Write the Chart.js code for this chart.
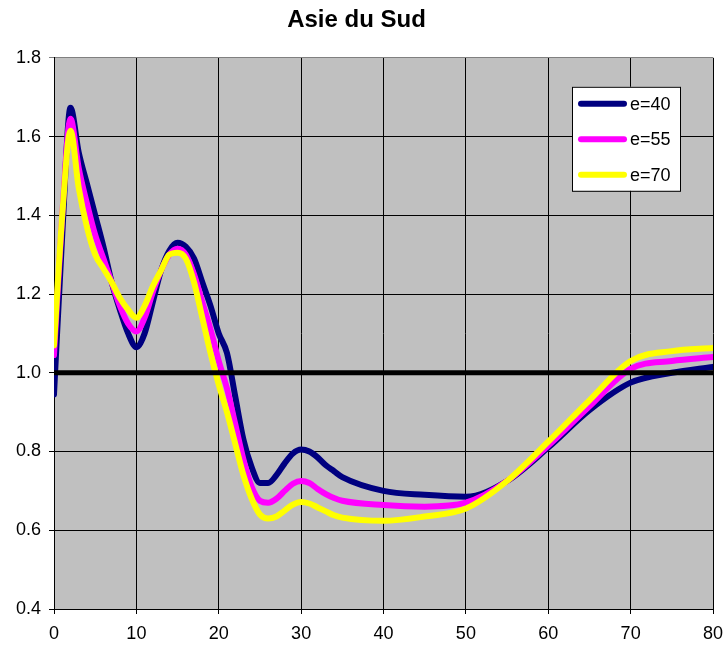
<!DOCTYPE html>
<html>
<head>
<meta charset="utf-8">
<title>Asie du Sud</title>
<script src="https://cdn.jsdelivr.net/npm/chart.js@4.4.1/dist/chart.umd.min.js"></script>
<style>
  html, body { margin: 0; padding: 0; background: #fff; }
  #wrap { width: 724px; height: 648px; }
</style>
</head>
<body>
<div id="wrap"><canvas id="courbes"></canvas></div>
<script>
// abscisses communes aux trois courbes
const ages = [0, 1, 2, 3, 4, 5, 6, 7, 8, 9, 10, 11, 12, 13, 14, 15, 16, 17, 18, 19,
  20, 21, 22, 23, 24, 25, 26, 27, 28, 29, 30, 31, 32, 33, 34, 35,
  40, 45, 50, 55, 60, 65, 70, 75, 80];

const e40 = [0.945, 1.35, 1.673, 1.56, 1.48, 1.40, 1.32, 1.23, 1.16, 1.10, 1.065, 1.10, 1.18, 1.26, 1.31, 1.33,
  1.32, 1.29, 1.23, 1.17, 1.10, 1.05, 0.94, 0.83, 0.76, 0.72, 0.72, 0.74, 0.77, 0.795, 0.805, 0.80, 0.785,
  0.765, 0.75, 0.735, 0.70, 0.69, 0.685, 0.725, 0.81, 0.905, 0.975, 1.00, 1.015];

const e55 = [1.045, 1.40, 1.645, 1.52, 1.43, 1.35, 1.29, 1.23, 1.17, 1.125, 1.105, 1.14, 1.205, 1.26, 1.30, 1.315,
  1.30, 1.25, 1.18, 1.11, 1.03, 0.96, 0.87, 0.78, 0.71, 0.675, 0.67, 0.68, 0.70, 0.718, 0.725, 0.72, 0.705,
  0.692, 0.682, 0.675, 0.664, 0.66, 0.67, 0.725, 0.815, 0.915, 1.01, 1.03, 1.04];

const e70 = [1.07, 1.40, 1.615, 1.47, 1.37, 1.30, 1.265, 1.23, 1.19, 1.16, 1.14, 1.17, 1.22, 1.26, 1.30, 1.305,
  1.29, 1.23, 1.14, 1.05, 0.97, 0.90, 0.82, 0.74, 0.68, 0.64, 0.63, 0.635, 0.65, 0.665, 0.672, 0.668, 0.658,
  0.648, 0.638, 0.632, 0.624, 0.635, 0.655, 0.725, 0.825, 0.93, 1.03, 1.055, 1.063];

// droite de référence y = 1
const refX = [0, 80];
const refY = [1, 1];

const series = [
  { label: 'e=40', data: e40, color: '#000080', order: 3 },
  { label: 'e=55', data: e55, color: '#FF00FF', order: 2 },
  { label: 'e=70', data: e70, color: '#FFFF00', order: 1 }
];

const police = "'Liberation Sans', Arial, sans-serif";

// fond gris de la zone de tracé
const fondGris = {
  id: 'fondGris',
  beforeDraw(chart) {
    const { ctx, chartArea: a } = chart;
    ctx.save();
    ctx.fillStyle = '#C0C0C0';
    ctx.fillRect(a.left, a.top, a.right - a.left, a.bottom - a.top);
    ctx.restore();
  }
};

// légende encadrée dans le coin haut droit
const legende = {
  id: 'legende',
  afterDraw(chart) {
    const { ctx, chartArea: a } = chart;
    const x0 = a.right - 141, y0 = a.top + 29, w = 108, h = 104;
    ctx.save();
    ctx.fillStyle = '#fff';
    ctx.fillRect(x0, y0, w, h);
    ctx.strokeStyle = '#000';
    ctx.lineWidth = 1;
    ctx.strokeRect(x0 + 0.5, y0 + 0.5, w, h);
    ctx.font = '18px ' + police;
    ctx.textBaseline = 'middle';
    series.forEach((s, i) => {
      const y = y0 + 17 + i * 35.5;
      ctx.strokeStyle = s.color;
      ctx.lineWidth = 6;
      ctx.lineCap = 'round';
      ctx.beginPath();
      ctx.moveTo(x0 + 9, y);
      ctx.lineTo(x0 + 52, y);
      ctx.stroke();
      ctx.fillStyle = '#000';
      ctx.fillText(s.label, x0 + 58, y + 1);
    });
    ctx.restore();
  }
};

const datasets = series.map(s => ({
  label: s.label,
  data: ages.map((x, i) => ({ x: x, y: s.data[i] })),
  borderColor: s.color,
  backgroundColor: s.color,
  borderWidth: 6,
  pointRadius: 0,
  cubicInterpolationMode: 'monotone',
  borderJoinStyle: 'round',
  borderCapStyle: 'round',
  order: s.order
}));

datasets.push({
  label: 'ref',
  data: refX.map((x, i) => ({ x: x, y: refY[i] })),
  borderColor: '#000',
  borderWidth: 5,
  pointRadius: 0,
  order: 0
});

new Chart(document.getElementById('courbes'), {
  type: 'line',
  data: { datasets: datasets },
  options: {
    responsive: true,
    maintainAspectRatio: false,
    animation: false,
    layout: { padding: { left: 0, right: 11, top: 0, bottom: 0 } },
    plugins: {
      legend: { display: false },
      tooltip: { enabled: false },
      title: {
        display: true,
        text: 'Asie du Sud',
        color: '#000',
        font: { family: police, size: 24, weight: 'bold' },
        padding: { top: 6, bottom: 23 }
      }
    },
    scales: {
      x: {
        type: 'linear',
        min: 0,
        max: 80,
        ticks: { stepSize: 10, color: '#000', font: { family: police, size: 18 }, padding: 9, maxRotation: 0 },
        grid: { color: '#000', tickLength: 5, lineWidth: 1 },
        border: { color: '#000', width: 1 },
        afterFit(scale) {
          scale.height = 39;
          scale.paddingLeft = 0;
          scale.paddingRight = 0;
        }
      },
      y: {
        min: 0.4,
        max: 1.8,
        ticks: {
          stepSize: 0.2,
          color: '#000',
          font: { family: police, size: 18 },
          padding: 8,
          callback: v => v.toFixed(1)
        },
        grid: {
          color: ctx => (ctx.tick && ctx.tick.value >= 1.79 ? '#808080' : '#000'),
          tickLength: 5,
          lineWidth: 1
        },
        border: { color: '#000', width: 1 },
        afterFit(scale) { scale.width = 54; }
      }
    }
  },
  plugins: [fondGris, legende]
});
</script>
</body>
</html>
